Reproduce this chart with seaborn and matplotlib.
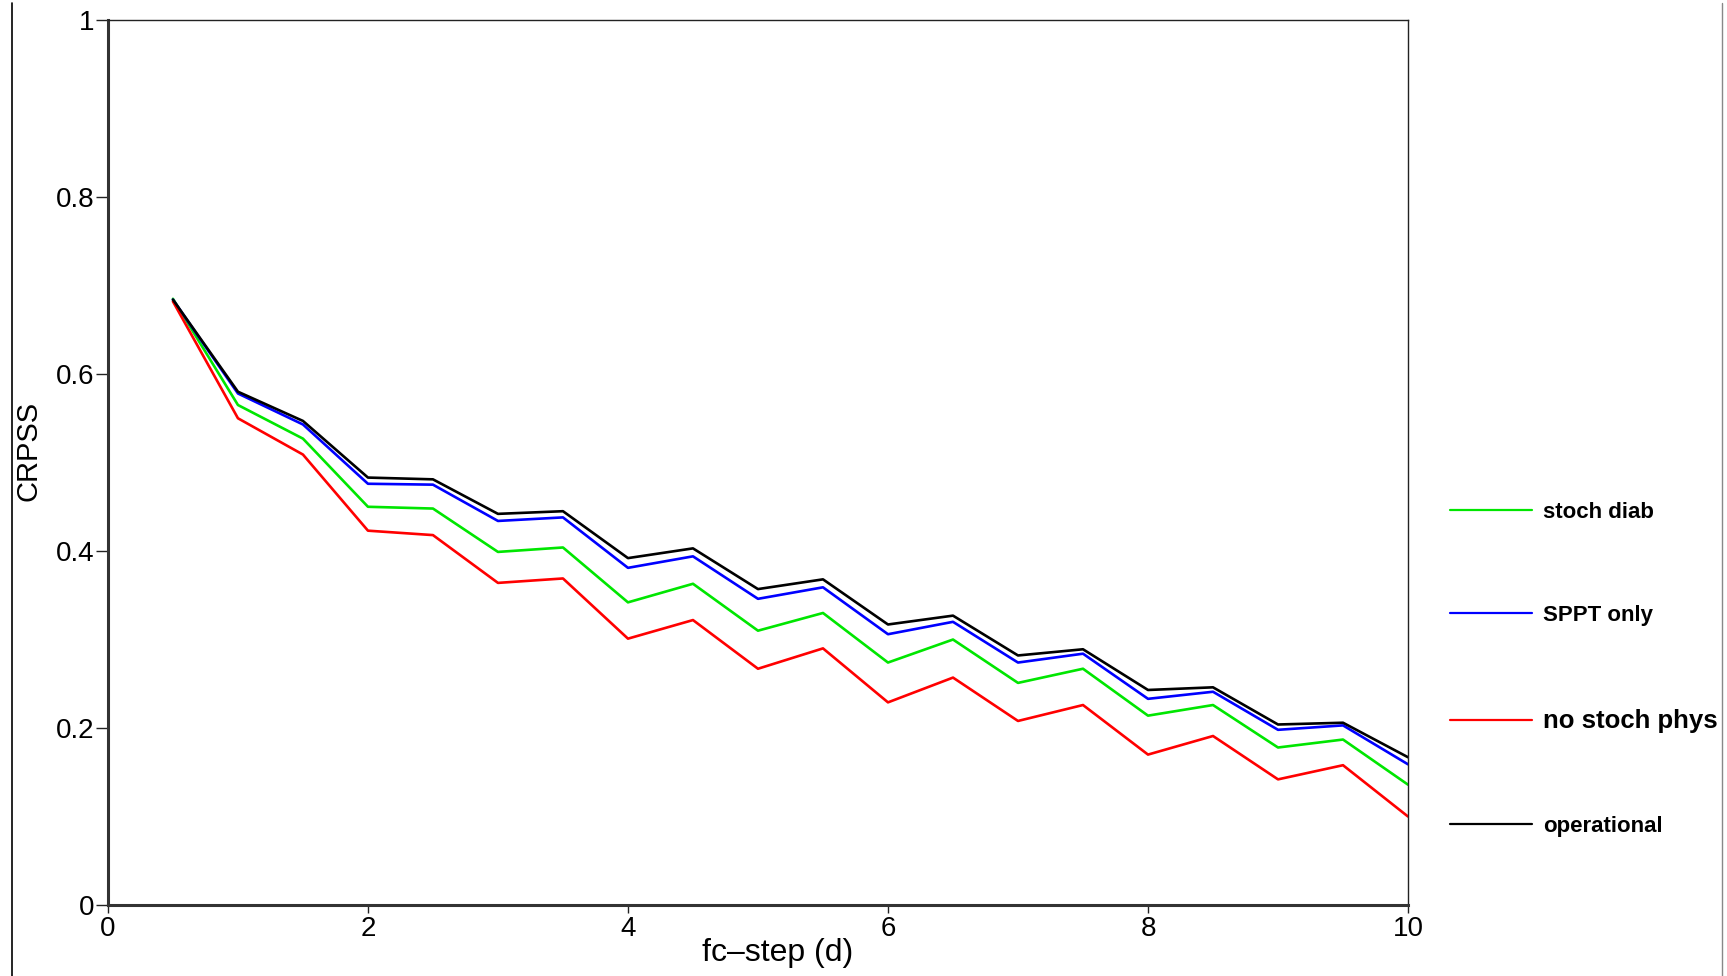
import matplotlib
matplotlib.use("Agg")
import matplotlib.pyplot as plt
from matplotlib.lines import Line2D
import numpy as np
import pandas as pd
import seaborn as sns

# forecast step in days
fc_step = [0.5, 1.0, 1.5, 2.0, 2.5, 3.0, 3.5, 4.0, 4.5, 5.0,
           5.5, 6.0, 6.5, 7.0, 7.5, 8.0, 8.5, 9.0, 9.5, 10.0]

stoch_diab = [0.685, 0.565, 0.527, 0.450, 0.448, 0.399, 0.404, 0.342, 0.363, 0.310,
              0.330, 0.274, 0.300, 0.251, 0.267, 0.214, 0.226, 0.178, 0.187, 0.136]
sppt_only = [0.684, 0.578, 0.543, 0.476, 0.475, 0.434, 0.438, 0.381, 0.394, 0.346,
             0.359, 0.306, 0.320, 0.274, 0.284, 0.233, 0.241, 0.198, 0.203, 0.159]
no_stoch_phys = [0.682, 0.550, 0.509, 0.423, 0.418, 0.364, 0.369, 0.301, 0.322, 0.267,
                 0.290, 0.229, 0.257, 0.208, 0.226, 0.170, 0.191, 0.142, 0.158, 0.100]
operational = [0.684, 0.580, 0.547, 0.483, 0.481, 0.442, 0.445, 0.392, 0.403, 0.357,
               0.368, 0.317, 0.327, 0.282, 0.289, 0.243, 0.246, 0.204, 0.206, 0.167]

series_names = ["stoch diab", "SPPT only", "no stoch phys", "operational"]
series_colors = ["#00e600", "#0000ff", "#ff0000", "#000000"]

x_ticks = [0, 2, 4, 6, 8, 10]
y_ticks = [0, 0.2, 0.4, 0.6, 0.8, 1.0]
y_tick_labels = ["0", "0.2", "0.4", "0.6", "0.8", "1"]

df = pd.DataFrame({
    "fc_step": fc_step * 4,
    "crpss": stoch_diab + sppt_only + no_stoch_phys + operational,
    "experiment": np.repeat(series_names, len(fc_step)),
})

sns.set_theme(style="white")
plt.rcParams["font.family"] = ["Liberation Sans", "DejaVu Sans"]
plt.rcParams["text.color"] = "black"
plt.rcParams["axes.labelcolor"] = "black"

fig = plt.figure(figsize=(17.27, 9.76), dpi=100)
ax = fig.add_axes([0.0625, 0.0727, 0.7528, 0.9068])

sns.lineplot(data=df, x="fc_step", y="crpss", hue="experiment",
             hue_order=series_names, palette=series_colors,
             linewidth=1.9, ax=ax, legend=False)

ax.set_xlim(0, 10)
ax.set_ylim(0, 1)
ax.set_xticks(x_ticks)
ax.set_xticklabels([str(t) for t in x_ticks], fontsize=20)
ax.set_yticks(y_ticks)
ax.set_yticklabels(y_tick_labels, fontsize=20)
ax.tick_params(axis="both", direction="out", colors="#222222", labelcolor="black")
ax.tick_params(axis="y", length=9, width=1, pad=1, left=True)
ax.tick_params(axis="x", length=6, width=1, pad=2, bottom=True)

ax.set_xlabel("fc\u2013step (d)", fontsize=23)
ax.set_ylabel("CRPSS", fontsize=21)
ax.xaxis.set_label_coords(0.515, -0.037)
ax.yaxis.set_label_coords(-0.050, 0.513)

for side in ["left", "bottom"]:
    ax.spines[side].set_linewidth(2.2)
    ax.spines[side].set_color("#333333")
for side in ["top", "right"]:
    ax.spines[side].set_linewidth(1.0)
    ax.spines[side].set_color("#222222")

handles = [Line2D([0], [0], color=c, lw=1.6) for c in series_colors]
leg = fig.legend(handles, series_names, loc="center left",
                 bbox_to_anchor=(0.828, 0.3145), frameon=False,
                 prop={"weight": "bold", "size": 16},
                 handlelength=3.7, handletextpad=0.5, labelspacing=3.72)
leg.get_texts()[2].set_fontsize(18.5)
for t in leg.get_texts():
    t.set_color("black")

# thin frame lines at the image edges
fig.add_artist(Line2D([0.0069, 0.0069], [0.0, 0.997], transform=fig.transFigure,
                      color="black", lw=1.2))
fig.add_artist(Line2D([0.9971, 0.9971], [0.0, 0.997], transform=fig.transFigure,
                      color="#888888", lw=1.0))

fig.savefig("out.png", dpi=100)
